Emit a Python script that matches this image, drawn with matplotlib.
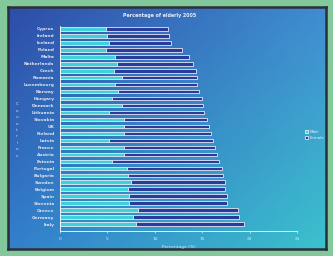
import numpy as np
import matplotlib
matplotlib.use('Agg')
import matplotlib.pyplot as plt

# data (stacked: male + female share of elderly, %)
countries = ['Cyprus', 'Ireland', 'Iceland', 'Poland', 'Malta', 'Netherlands',
             'Czech', 'Romania', 'Luxembourg', 'Norway', 'Hungary', 'Denmark',
             'Lithuania', 'Slovakia', 'UK', 'Finland', 'Latvia', 'France',
             'Austria', 'Estonia', 'Portugal', 'Bulgaria', 'Sweden', 'Belgium',
             'Spain', 'Slovenia', 'Greece', 'Germany', 'Italy']
male = [4.9, 5.0, 5.2, 4.9, 5.8, 6.0, 5.7, 6.5, 5.8, 6.1, 5.5, 6.5, 5.2, 6.7,
        6.8, 6.7, 5.2, 6.7, 6.8, 5.5, 7.1, 7.2, 7.5, 7.2, 7.3, 7.3, 8.2, 7.7, 8.0]
total = [11.4, 11.5, 11.7, 12.9, 13.6, 14.0, 14.3, 14.5, 14.5, 14.7, 15.0, 15.1,
         15.2, 15.5, 15.7, 15.9, 16.1, 16.4, 16.6, 16.8, 17.1, 17.2, 17.4, 17.4,
         17.6, 17.6, 18.8, 18.9, 19.4]
female = [t - m for t, m in zip(total, male)]
xticks = [0, 5, 10, 15, 20, 25]

W, H = 333, 256
fig = plt.figure(figsize=(W / 100, H / 100), dpi=100)
fig.patch.set_facecolor('#82c89a')

# gradient panel behind the chart
bg = fig.add_axes([8 / W, 7 / H, 318 / W, 242 / H])
tl = np.array([0.18, 0.30, 0.66])
tr = np.array([0.25, 0.55, 0.82])
bl = np.array([0.20, 0.50, 0.80])
br = np.array([0.23, 0.76, 0.80])
u = np.linspace(0, 1, 200)[None, :, None]
v = np.linspace(0, 1, 150)[:, None, None]
grad = (1 - v) * ((1 - u) * tl + u * tr) + v * ((1 - u) * bl + u * br)
bg.imshow(grad, aspect='auto', extent=[0, 1, 0, 1], origin='upper')
bg.set_xticks([])
bg.set_yticks([])
for s in bg.spines.values():
    s.set_color('#2b2f3a')
    s.set_linewidth(1.8)

ax = fig.add_axes([60 / W, 1 - 231 / H, 237 / W, 205 / H])
ax.patch.set_alpha(0)
y = np.arange(len(countries))[::-1]
ax.barh(y, male, height=0.5, color='#3fd0d8', edgecolor='white', linewidth=0.5,
        label='Male')
ax.barh(y, female, left=male, height=0.5, color='#2b3b9c', edgecolor='#e4e6f4',
        linewidth=0.6, label='Female')

ax.set_xlim(0, 25)
ax.set_ylim(-1.0, 28.43)
ax.set_yticks(y)
ax.set_yticklabels(countries, fontsize=3.2, color='#dde3f0', fontweight='bold')
ax.set_xticks(xticks)
ax.set_xticklabels([str(t) for t in xticks], fontsize=3.2, color='#dde3f0')
ax.tick_params(axis='y', length=0, pad=4)
ax.tick_params(axis='x', length=1.5, width=0.4, color='white', pad=2.5)
for s in ['top', 'right']:
    ax.spines[s].set_visible(False)
ax.spines['left'].set_color('white')
ax.spines['bottom'].set_color('white')
ax.spines['left'].set_linewidth(0.6)
ax.spines['bottom'].set_linewidth(0.6)
ax.set_xlabel('Percentage (%)', fontsize=3.2, color='#dde3f0', labelpad=3)

fig.text(160 / W, 1 - 16 / H, 'Percentage of elderly 2005', fontsize=3.4,
         color='#e8ecf6', fontweight='bold', ha='center', va='center')
fig.text(17 / W, 1 - 130 / H, '\n'.join('Countries'), fontsize=3.0,
         color='#dde3f0', ha='center', va='center', linespacing=1.8)

leg = ax.legend(loc='upper left', bbox_to_anchor=(303 / W, 1 - 128 / H),
                bbox_transform=fig.transFigure, frameon=False, fontsize=3.0,
                handlelength=0.8, handleheight=0.8, handletextpad=0.4,
                labelspacing=0.5, borderpad=0)
for t in leg.get_texts():
    t.set_color('#e8ecf6')

fig.savefig('out.png', dpi=100, facecolor=fig.get_facecolor())
